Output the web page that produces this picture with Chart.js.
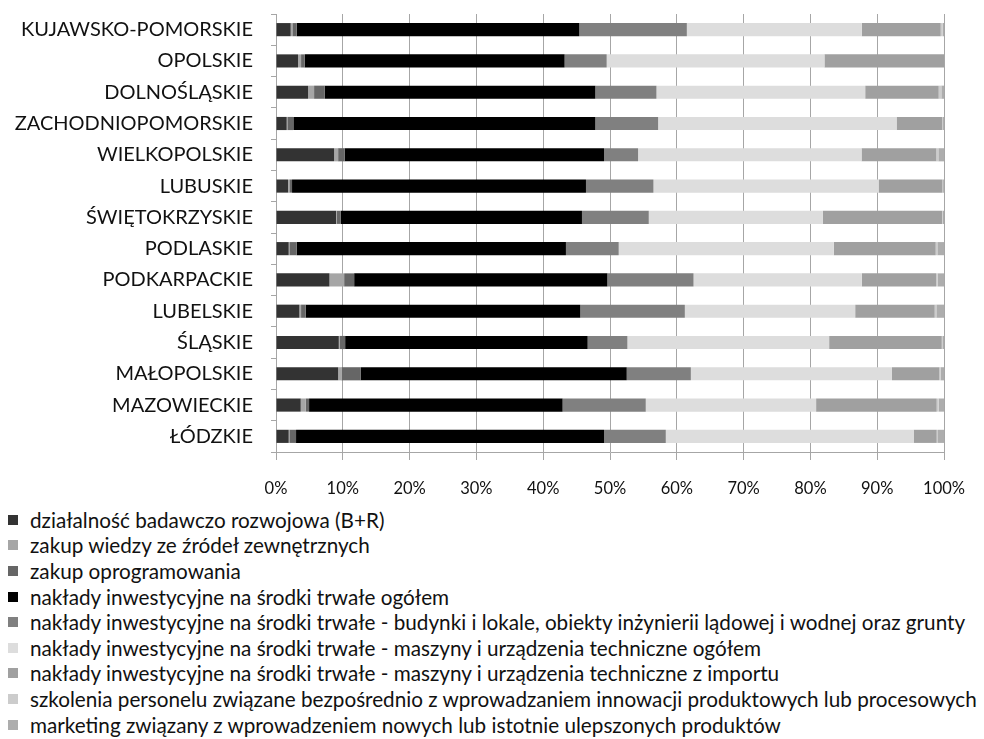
<!DOCTYPE html>
<html>
<head>
<meta charset="utf-8">
<script src="https://cdn.jsdelivr.net/npm/chart.js@4"></script>
<style>
  html, body { margin: 0; padding: 0; background: #fff; }
  #wrap { position: relative; width: 984px; height: 739px; overflow: hidden; }
  #c { position: absolute; left: 0; top: 0; }
  #legend { position: absolute; left: 8px; top: 507px; font-family: Lato, sans-serif; font-size: 20.7px; color: #111; }
  .item { display: flex; align-items: center; height: 25.6px; white-space: nowrap; }
  .sw { width: 10px; height: 10px; margin-right: 12px; flex: none; }
</style>
</head>
<body>
<div id="wrap">
  <canvas id="c" width="984" height="505"></canvas>
  <div id="legend"></div>
</div>
<script>
// regions, top to bottom
const regions = ['KUJAWSKO-POMORSKIE', 'OPOLSKIE', 'DOLNOŚLĄSKIE', 'ZACHODNIOPOMORSKIE', 'WIELKOPOLSKIE',
  'LUBUSKIE', 'ŚWIĘTOKRZYSKIE', 'PODLASKIE', 'PODKARPACKIE', 'LUBELSKIE', 'ŚLĄSKIE', 'MAŁOPOLSKIE',
  'MAZOWIECKIE', 'ŁÓDZKIE'];

const seriesNames = [
  'działalność badawczo rozwojowa (B+R)',
  'zakup wiedzy ze źródeł zewnętrznych',
  'zakup oprogramowania',
  'nakłady inwestycyjne na środki trwałe ogółem',
  'nakłady inwestycyjne na środki trwałe - budynki i lokale, obiekty inżynierii lądowej i wodnej oraz grunty',
  'nakłady inwestycyjne na środki trwałe - maszyny i urządzenia techniczne ogółem',
  'nakłady inwestycyjne na środki trwałe - maszyny i urządzenia techniczne z importu',
  'szkolenia personelu związane bezpośrednio z wprowadzaniem innowacji produktowych lub procesowych',
  'marketing związany z wprowadzeniem nowych lub istotnie ulepszonych produktów',
];

// shares in %, one value per region
const br        = [2.2, 3.3, 4.8, 1.6, 8.7, 1.8, 9.0, 1.9, 8.0, 3.5, 9.4, 9.3, 3.7, 1.9];
const wiedza    = [0.25, 0.45, 0.9, 0.1, 0.6, 0.2, 0.1, 0.1, 2.2, 0.25, 0.1, 0.5, 0.75, 0.1];
const oprog     = [0.65, 0.55, 1.6, 0.9, 1.0, 0.4, 0.6, 1.1, 1.5, 0.7, 0.85, 2.9, 0.5, 1.0];
const inwOgolem = [42.3, 38.9, 40.5, 45.2, 38.8, 44.0, 36.1, 40.3, 37.9, 41.1, 36.3, 39.8, 37.95, 46.1];
const budynki   = [16.1, 6.3, 9.15, 9.4, 5.1, 10.1, 10.0, 7.9, 12.9, 15.65, 5.95, 9.6, 12.45, 9.25];
const maszyny   = [26.2, 32.6, 31.25, 35.7, 33.45, 33.7, 26.05, 32.2, 25.2, 25.5, 30.2, 30.1, 25.5, 37.1];
const import_   = [11.8, 17.9, 11.0, 6.8, 11.2, 9.56, 17.86, 15.25, 11.1, 11.9, 16.86, 7.1, 18.05, 3.45];
const szkolenia = [0.3, 0, 0.4, 0.15, 0.3, 0.1, 0.1, 0.25, 0.25, 0.25, 0.1, 0.2, 0.3, 0.2];
const marketing = [0.2, 0, 0.4, 0.15, 0.85, 0.14, 0.2, 1.0, 0.95, 1.15, 0.24, 0.5, 0.8, 0.9];

const tickLabels = ['0%', '10%', '20%', '30%', '40%', '50%', '60%', '70%', '80%', '90%', '100%'];

const colors = ['#333333', '#a6a6a6', '#666666', '#000000', '#808080', '#dddddd', '#a0a0a0', '#cccccc', '#adadad'];
const values = [br, wiedza, oprog, inwOgolem, budynki, maszyny, import_, szkolenia, marketing];

const font = 'Lato, sans-serif';
const axisGray = '#a6a6a6';

const chart = new Chart(document.getElementById('c'), {
  type: 'bar',
  data: {
    labels: regions,
    datasets: seriesNames.map((name, i) => ({
      label: name, data: values[i], backgroundColor: colors[i], borderWidth: 0,
      categoryPercentage: 1.0, barPercentage: 0.42,
    })),
  },
  options: {
    indexAxis: 'y',
    responsive: false, animation: false,
    layout: { padding: { top: 0, right: 39, left: 0, bottom: 0 } },
    plugins: { legend: { display: false }, tooltip: { enabled: false } },
    scales: {
      x: {
        stacked: true, min: 0, max: 100,
        ticks: { stepSize: 10, padding: 19, maxRotation: 0, color: '#111',
                 font: { family: font, size: 16.5 }, callback: (v) => tickLabels[Math.round(v / 10)] },
        grid: { color: axisGray, tickLength: 8 },
        border: { color: axisGray },
        afterFit: (s) => { s.height = 53; },
      },
      y: {
        stacked: true,
        ticks: { padding: 18, color: '#111', font: { family: font, size: 20 } },
        grid: { drawOnChartArea: false, tickLength: 5, color: axisGray, offset: true },
        border: { color: axisGray },
        // label padding would otherwise push the plot down
        afterFit: (s) => { s.width = 276; s.paddingTop = 14; s.paddingBottom = 0; },
      },
    },
  },
});

// legend built from the datasets
const leg = document.getElementById('legend');
chart.data.datasets.forEach(ds => {
  const row = document.createElement('div');
  row.className = 'item';
  const sw = document.createElement('span');
  sw.className = 'sw';
  sw.style.background = ds.backgroundColor;
  const txt = document.createElement('span');
  txt.textContent = ds.label;
  row.append(sw, txt);
  leg.append(row);
});
</script>
</body>
</html>
